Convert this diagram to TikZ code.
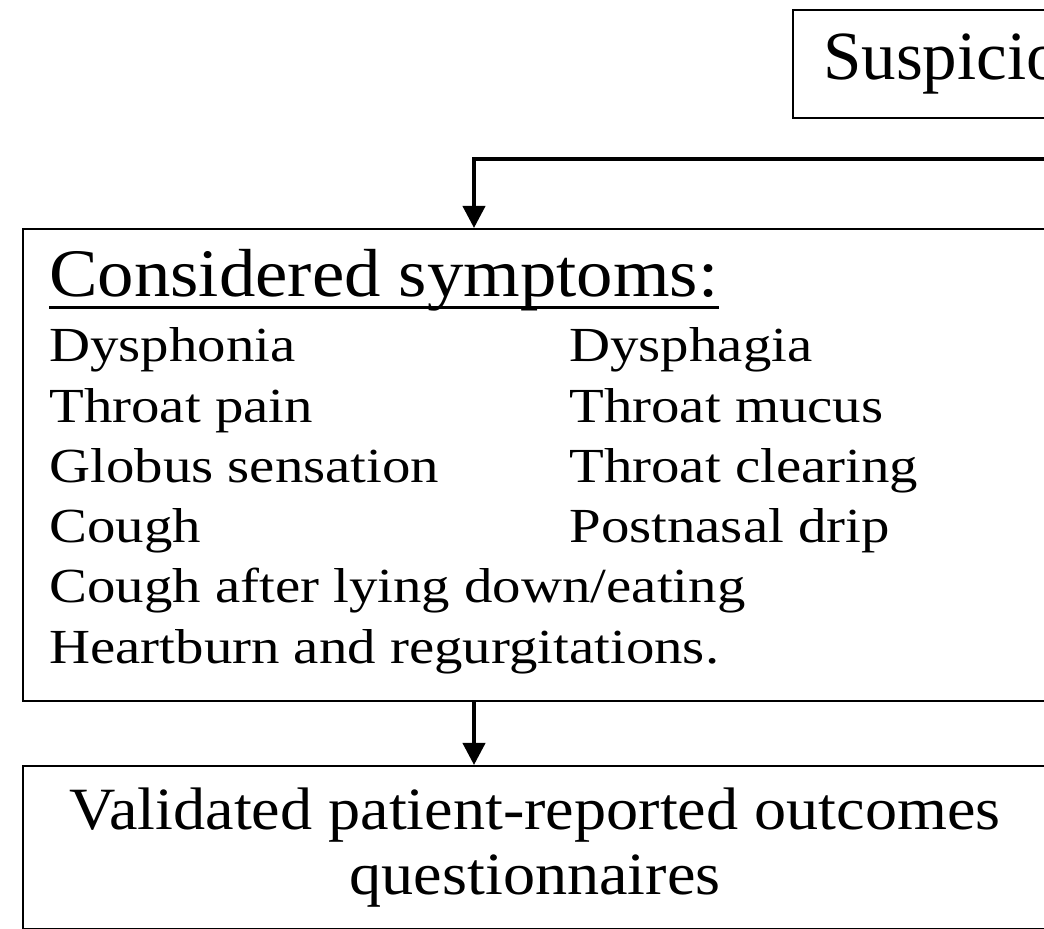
\documentclass[tikz,border=0pt]{standalone}
\usepackage{fontspec}
\setmainfont{Liberation Serif}[FakeStretch=1.16]
\newfontfamily\headfont{Liberation Serif}[FakeStretch=1.07]
\newfontfamily\plainfont{Liberation Serif}
\usepackage{tikz}
\usetikzlibrary{arrows.meta,positioning}

\begin{document}
\begin{tikzpicture}[x=0.5pt, y=-0.5pt,
  box/.style={draw, line width=1.2pt, anchor=north west, inner sep=0pt},
  sym/.style={anchor=base west, inner sep=0pt, font=\fontsize{24.5}{29}\selectfont},
  arr/.style={-{Triangle[length=11pt,width=11pt]}, line width=2pt}]
  \useasboundingbox (0,0) rectangle (1044,929);
  \clip (0,0) rectangle (1044,929);
  \node[box, minimum width=200pt, minimum height=54pt, text width=170pt, inner xsep=11pt, align=left,
    font=\plainfont\fontsize{34.5}{40}\selectfont] (susp) at (792,9) {Suspicion};
  \node[box, minimum width=560pt, minimum height=236pt] (symbox) at (22,228) {};
  \node[sym, font=\headfont\fontsize{34}{38}\selectfont] (symtitle) at (49,297) {Considered symptoms:};
  \draw[line width=1.5pt] ([yshift=-5.5pt]symtitle.base west) -- ([yshift=-5.5pt]symtitle.base east);
  \foreach \l/\r [count=\k] in {Dysphonia/Dysphagia, Throat pain/Throat mucus, Globus sensation/Throat clearing, Cough/Postnasal drip}{
    \node[sym] (sl\k) at (49,301.5+\k*60.3) {\l};
    \node[sym] (sr\k) at (569,301.5+\k*60.3) {\r};}
  \node[sym] (s5) at (49,603) {Cough after lying down/eating};
  \node[sym] (s6) at (49,663.3) {Heartburn and regurgitations.};
  \node[box, minimum width=512pt, minimum height=81.5pt, align=center,
    font=\headfont\fontsize{30}{32.5}\selectfont] (valbox) at (22,765) {Validated patient-reported outcomes\\questionnaires};
  \coordinate (split) at (1060,159);
  \coordinate (axis) at (474,0);
  \draw[arr] (split) -| (symbox.north -| axis);
  \draw[arr] (symbox.south -| axis) -- (valbox.north -| axis);
\end{tikzpicture}
\end{document}
